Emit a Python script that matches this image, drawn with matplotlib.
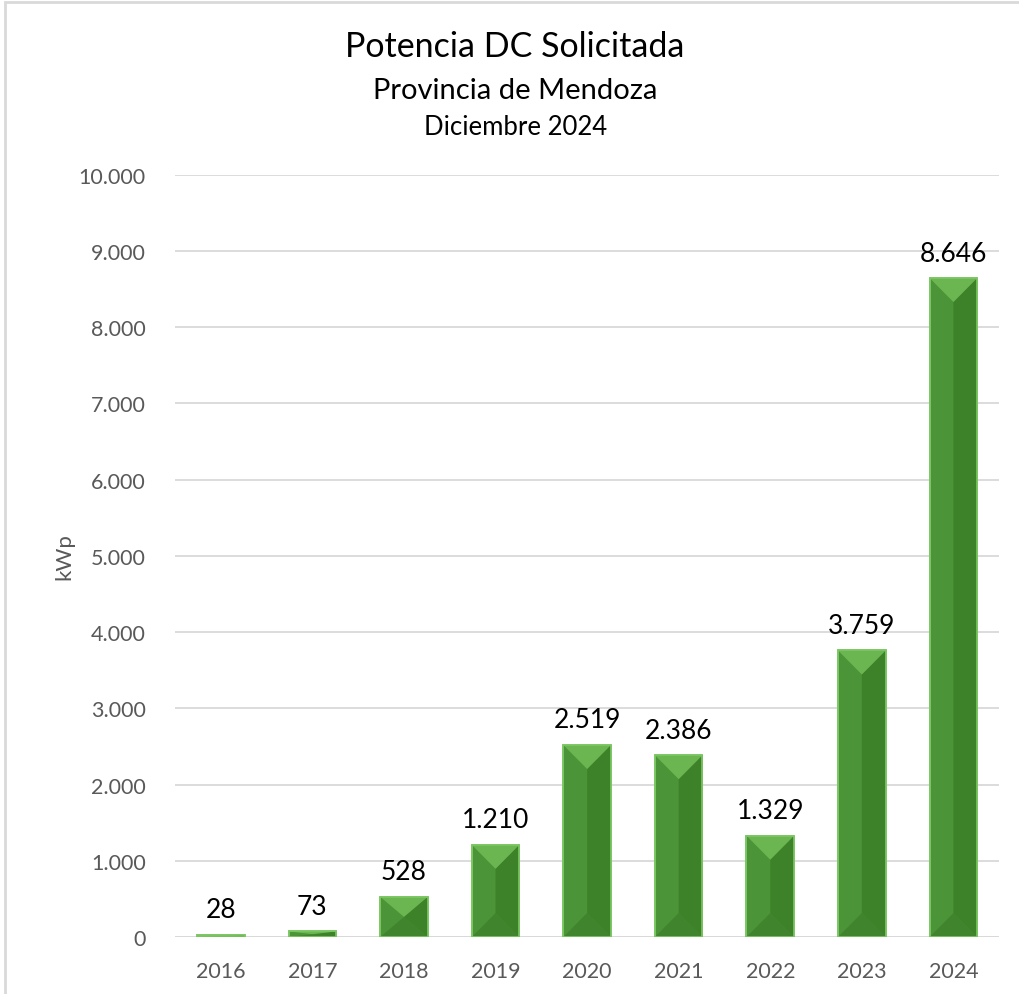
import numpy as np
import matplotlib.pyplot as plt
from matplotlib.patches import Polygon, Rectangle

years = ['2016', '2017', '2018', '2019', '2020', '2021', '2022', '2023', '2024']
kwp = [28, 73, 528, 1210, 2519, 2386, 1329, 3759, 8646]
labels = ['28', '73', '528', '1.210', '2.519', '2.386', '1.329', '3.759', '8.646']
yticks = [0, 1000, 2000, 3000, 4000, 5000, 6000, 7000, 8000, 9000, 10000]
ytick_labels = ['0', '1.000', '2.000', '3.000', '4.000', '5.000', '6.000',
                '7.000', '8.000', '9.000', '10.000']

plt.rcParams['font.family'] = ['Lato', 'DejaVu Sans']

fig = plt.figure(figsize=(10.2, 9.95), dpi=100)
ax = fig.add_axes([0.1716, 0.0573, 0.808, 0.766])

x = np.arange(len(years))
w = 0.52
bars = ax.bar(x, kwp, width=w, color='#4b9437', edgecolor='#7cc763',
              linewidth=1.2, zorder=3)

# bevel look: darker right half, light triangle on top, dark one at bottom
px_per_unit = 762 / 10000
depth = 24 / px_per_unit
for xi, h in zip(x, kwp):
    l, r = xi - w / 2, xi + w / 2
    d = min(depth, h / 2)
    ax.add_patch(Polygon([(xi, d), (r, 0), (r, h), (xi, h - d)],
                         closed=True, color='#3d8228', lw=0, zorder=3.5))
    ax.add_patch(Polygon([(l, h), (r, h), (xi, h - d)],
                         closed=True, color='#6cb652', lw=0, zorder=3.6))
    ax.add_patch(Polygon([(l, 0), (r, 0), (xi, d)],
                         closed=True, color='#3a7c27', alpha=0.6, lw=0, zorder=3.6))
    ax.add_patch(Rectangle((l, 0), w, h, fill=False, ec='#7cc763',
                           lw=1.2, zorder=3.8))

for xi, h, t in zip(x, kwp, labels):
    ax.annotate(t, (xi, h), xytext=(0, 9), textcoords='offset points',
                ha='center', va='bottom', fontsize=19, color='black')

ax.set_xlim(-0.5, len(years) - 0.5)
ax.set_ylim(0, 10000)
ax.set_xticks(x)
ax.set_xticklabels(years, fontsize=15.5, color='#595959')
ax.set_yticks(yticks)
ax.set_yticklabels(ytick_labels, fontsize=15.5, color='#595959')
ax.tick_params(axis='y', length=0, pad=21)
ax.tick_params(axis='x', length=0, pad=17)
ax.yaxis.grid(True, color='#d9d9d9', lw=1.3, zorder=0)
for s in ax.spines.values():
    s.set_visible(False)
ax.axhline(0, color='#d9d9d9', lw=1.3, zorder=2)
ax.set_ylabel('kWp', fontsize=16, color='#595959', labelpad=3)

fig.text(0.505, 0.953, 'Potencia DC Solicitada', ha='center', va='center', fontsize=24.5)
fig.text(0.505, 0.909, 'Provincia de Mendoza', ha='center', va='center', fontsize=21)
fig.text(0.505, 0.872, 'Diciembre 2024', ha='center', va='center', fontsize=18.5)

fig.patches.append(Rectangle((5 / 1020, -0.01), 1.02, 0.01 + 1 - 3 / 995,
                             transform=fig.transFigure, fill=False,
                             ec='#d9d9d9', lw=2))

plt.savefig('out.png')
